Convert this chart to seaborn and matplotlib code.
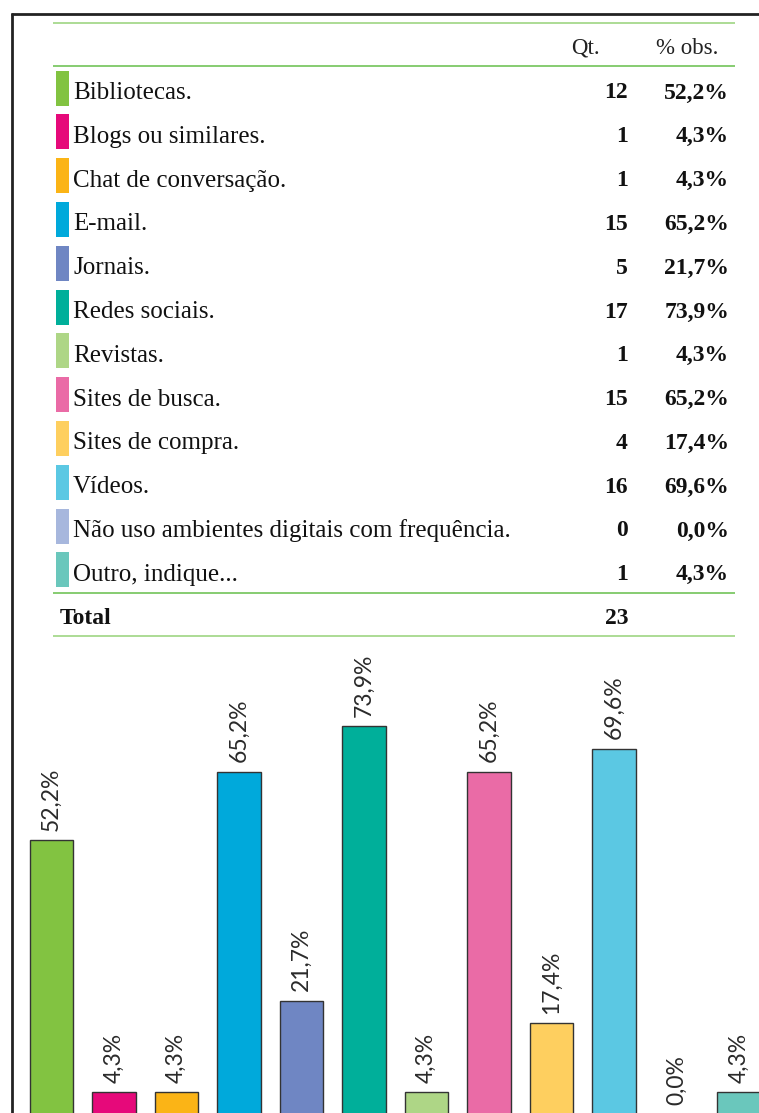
import matplotlib
matplotlib.use("Agg")
import matplotlib.pyplot as plt
from matplotlib.patches import Rectangle
import seaborn as sns
import pandas as pd

# ---- data ----
categories = [
    "Bibliotecas.",
    "Blogs ou similares.",
    "Chat de conversação.",
    "E-mail.",
    "Jornais.",
    "Redes sociais.",
    "Revistas.",
    "Sites de busca.",
    "Sites de compra.",
    "Vídeos.",
    "Não uso ambientes digitais com frequência.",
    "Outro, indique...",
]
counts = [12, 1, 1, 15, 5, 17, 1, 15, 4, 16, 0, 1]
percents = [52.2, 4.3, 4.3, 65.2, 21.7, 73.9, 4.3, 65.2, 17.4, 69.6, 0.0, 4.3]
colors = ["#82C341", "#E6097A", "#FBB416", "#00A9DB", "#6F86C3", "#00AF9A",
          "#AED686", "#EA6BA6", "#FECF5F", "#5BC8E3", "#A7B7DD", "#6AC7BC"]
total_label = "Total"
total_count = 23
header_qt = "Qt."
header_pct = "% obs."

def fmt_pct(v):
    return f"{v:.1f}%".replace(".", ",")

df = pd.DataFrame({"cat": categories, "pct": percents})

sns.set_theme(style="white")
plt.rcParams["font.family"] = ["Liberation Serif", "DejaVu Serif"]

W, H = 759, 1113
fig = plt.figure(figsize=(W / 100, H / 100), dpi=100)

# ---- table area (pixel coordinates) ----
ax = fig.add_axes([0, 0, 1, 1])
ax.set_xlim(0, W)
ax.set_ylim(H, 0)
ax.axis("off")

# frame
ax.plot([11, W], [14, 14], color="#222222", lw=2.0, solid_capstyle="butt")
ax.plot([12, 12], [13, H], color="#222222", lw=2.0, solid_capstyle="butt")

# green rules
ax.hlines([23], 53, 735, color="#A6D98C", lw=1.3)
ax.hlines([66, 593], 53, 735, color="#66BE4A", lw=1.1)
ax.hlines([636], 53, 735, color="#A6D98C", lw=1.3)

# header
ax.text(600, 48, header_qt, ha="right", va="center", fontsize=16.5, color="#222222")
ax.text(718, 48, header_pct, ha="right", va="center", fontsize=16.5, color="#222222")

row0, step = 88, 43.8
for i, (c, n, p, col) in enumerate(zip(categories, counts, percents, colors)):
    yc = row0 + step * i
    ax.add_patch(Rectangle((56, yc - 17.5), 13, 35, facecolor=col, edgecolor="none"))
    ax.text(73, yc + 5, c, ha="left", va="center", fontsize=18, color="#111111")
    ax.text(628, yc + 5, str(n), ha="right", va="center", fontsize=17,
            fontweight="bold", color="#111111")
    ax.text(729, yc + 5, fmt_pct(p), ha="right", va="center", fontsize=17,
            fontweight="bold", color="#111111")

ax.text(60, 619, total_label, ha="left", va="center", fontsize=17,
        fontweight="bold", color="#111111")
ax.text(628, 619, str(total_count), ha="right", va="center", fontsize=17,
        fontweight="bold", color="#111111")

# ---- bar chart ----
px_per_unit = 5.259
ymax = 80
left_px, span_px = 20.25, 750
base_px = 1115
ax2 = fig.add_axes([left_px / W, (H - base_px) / H, span_px / W, ymax * px_per_unit / H])
ax2.patch.set_alpha(0)
sns.barplot(data=df, x="cat", y="pct", hue="cat", palette=colors, legend=False,
            ax=ax2, width=0.69, edgecolor="#333333", linewidth=1.0, saturation=1)
ax2.set_xlim(-0.5, len(categories) - 0.5)
ax2.set_ylim(0, ymax)
ax2.axis("off")

for i, v in enumerate(percents):
    ax2.annotate(fmt_pct(v), (i, v), xytext=(0, 7), textcoords="offset points",
                 rotation=90, ha="center", va="bottom", fontsize=16.5,
                 family=["Lato", "DejaVu Sans"], fontweight="normal", color="#2a2a2a")

fig.savefig("out.png", dpi=100)
